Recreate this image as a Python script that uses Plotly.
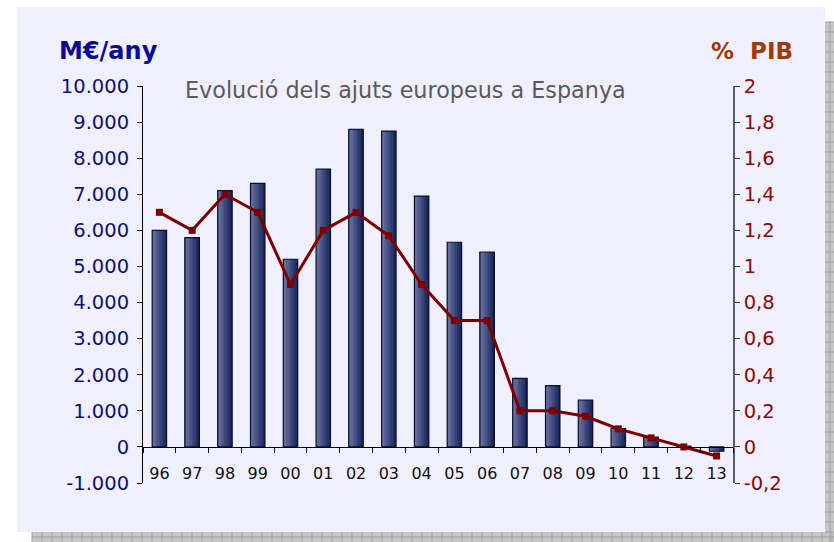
import plotly.graph_objects as go

# ---- data ----
years = ["96", "97", "98", "99", "00", "01", "02", "03", "04", "05",
         "06", "07", "08", "09", "10", "11", "12", "13"]
ajuts_meur = [6000, 5800, 7100, 7300, 5200, 7700, 8800, 8750, 6950, 5670,
              5400, 1900, 1700, 1300, 510, 270, 20, -120]
pct_pib = [1.3, 1.2, 1.4, 1.3, 0.9, 1.2, 1.3, 1.17, 0.9, 0.7,
           0.7, 0.2, 0.2, 0.17, 0.1, 0.05, 0.0, -0.05]

left_tickvals = [-1000, 0, 1000, 2000, 3000, 4000, 5000, 6000, 7000, 8000, 9000, 10000]
left_ticktext = ["-1.000", "0", "1.000", "2.000", "3.000", "4.000", "5.000",
                 "6.000", "7.000", "8.000", "9.000", "10.000"]
right_tickvals = [-0.2, 0, 0.2, 0.4, 0.6, 0.8, 1.0, 1.2, 1.4, 1.6, 1.8, 2.0]
right_ticktext = ["-0,2", "0", "0,2", "0,4", "0,6", "0,8", "1", "1,2", "1,4", "1,6", "1,8", "2"]

title_text = "Evolució dels ajuts europeus a Espanya"
left_title = "M€/any"
right_title = "% PIB"

# ---- layout geometry (pixels) ----
W, H = 834, 542
PX0, PX1 = 143, 733
PY_TOP, PY_BOT = 86, 483
FONT = "DejaVu Sans"

def fx(px):
    return px / W

def fy(py):
    return 1 - py / H

ymin, ymax = -1000, 10000
dom_y = [fy(PY_BOT), fy(PY_TOP)]
zero_pos = dom_y[0] + (0 - ymin) / (ymax - ymin) * (dom_y[1] - dom_y[0])

fig = go.Figure()

# gradient bars built from strips
bar_w = 0.44
n_strips = 10
c_left = (110, 115, 165)
c_right = (24, 40, 94)
for i in range(n_strips):
    t = i / (n_strips - 1)
    col = tuple(round(c_left[k] + (c_right[k] - c_left[k]) * t) for k in range(3))
    fig.add_trace(go.Bar(
        x=years, y=ajuts_meur,
        width=bar_w / n_strips + 0.002,
        offset=-bar_w / 2 + i * bar_w / n_strips,
        marker=dict(color="rgb(%d,%d,%d)" % col, line=dict(width=0)),
        showlegend=False, hoverinfo="skip",
    ))
# outline
fig.add_trace(go.Bar(
    x=years, y=ajuts_meur, width=bar_w, offset=-bar_w / 2,
    marker=dict(color="rgba(0,0,0,0)", line=dict(color="#0a0f2a", width=1.2)),
    showlegend=False, name="M€/any",
))

fig.add_trace(go.Scatter(
    x=years, y=pct_pib, yaxis="y2", mode="lines+markers",
    line=dict(color="#800000", width=3),
    marker=dict(symbol="square", size=7, color="#800000"),
    showlegend=False, name="% PIB",
))

# shadow grid path (decorative)
grid_path = []
for gx in range(32, 834, 10):
    grid_path.append("M%.5f,%.5f L%.5f,%.5f" % (fx(gx), fy(532), fx(gx), fy(542)))
for gy in range(22, 542, 10):
    grid_path.append("M%.5f,%.5f L%.5f,%.5f" % (fx(825), fy(gy), fx(834), fy(gy)))
grid_path.append("M%.5f,%.5f L%.5f,%.5f" % (fx(32), fy(537), fx(834), fy(537)))
grid_path.append("M%.5f,%.5f L%.5f,%.5f" % (fx(830), fy(22), fx(830), fy(542)))

shapes = [
    dict(type="rect", xref="paper", yref="paper", x0=fx(32), x1=fx(834), y0=fy(542), y1=fy(22),
         fillcolor="#c6c6c6", line=dict(width=0), layer="below"),
    dict(type="path", xref="paper", yref="paper", path=" ".join(grid_path),
         line=dict(color="#a2a2a2", width=1), layer="below"),
    dict(type="rect", xref="paper", yref="paper", x0=fx(17), x1=fx(825), y0=fy(532), y1=fy(7),
         fillcolor="#EFEFFD", line=dict(width=0), layer="below"),
]

annotations = [
    dict(text=title_text, xref="paper", yref="paper", x=fx(405), y=fy(90), showarrow=False,
         font=dict(family=FONT, size=22.3, color="#5a5a5a"), xanchor="center", yanchor="middle"),
    dict(text="<b>%s</b>" % left_title, xref="paper", yref="paper", x=fx(57), y=fy(51), showarrow=False,
         font=dict(family=FONT, size=24, color="#0a0a96"), xanchor="left", yanchor="middle"),
    dict(text="<b>%s</b>" % right_title.replace(" ", "&nbsp; "), xref="paper", yref="paper",
         x=fx(795), y=fy(51), showarrow=False,
         font=dict(family=FONT, size=23, color="#a0380a"), xanchor="right", yanchor="middle"),
]

fig.update_layout(
    width=W, height=H,
    margin=dict(l=0, r=0, t=0, b=0, autoexpand=False),
    paper_bgcolor="white", plot_bgcolor="rgba(0,0,0,0)",
    barmode="overlay",
    shapes=shapes, annotations=annotations,
    font=dict(family=FONT),
    xaxis=dict(
        domain=[fx(PX0), fx(PX1)], anchor="free", position=zero_pos,
        type="category", tickson="boundaries", range=[-0.5, len(years) - 0.5],
        showline=True, linecolor="black", linewidth=1,
        ticks="outside", ticklen=5, tickcolor="black",
        tickfont=dict(family=FONT, size=16, color="#111111"),
        ticklabelstandoff=12,
        showgrid=False, zeroline=False, automargin=False,
    ),
    yaxis=dict(
        domain=dom_y, range=[ymin, ymax],
        tickvals=left_tickvals, ticktext=left_ticktext,
        showline=True, linecolor="black", linewidth=1,
        ticks="outside", ticklen=5, tickcolor="black",
        tickfont=dict(family=FONT, size=19.5, color="#10107a"),
        ticklabelstandoff=4,
        showgrid=False, zeroline=False, automargin=False,
    ),
    yaxis2=dict(
        overlaying="y", side="right", anchor="x", range=[-0.2, 2.0],
        tickvals=right_tickvals, ticktext=right_ticktext,
        showline=True, linecolor="#5a5a6a", linewidth=1.5,
        ticks="outside", ticklen=5, tickcolor="#333333",
        tickfont=dict(family=FONT, size=19.5, color="#8b0a0a"),
        showgrid=False, zeroline=False, automargin=False,
    ),
)

fig.write_html("out.html", config={"displayModeBar": False},
               post_script="document.body.style.margin='0';document.body.style.overflow='hidden';")
